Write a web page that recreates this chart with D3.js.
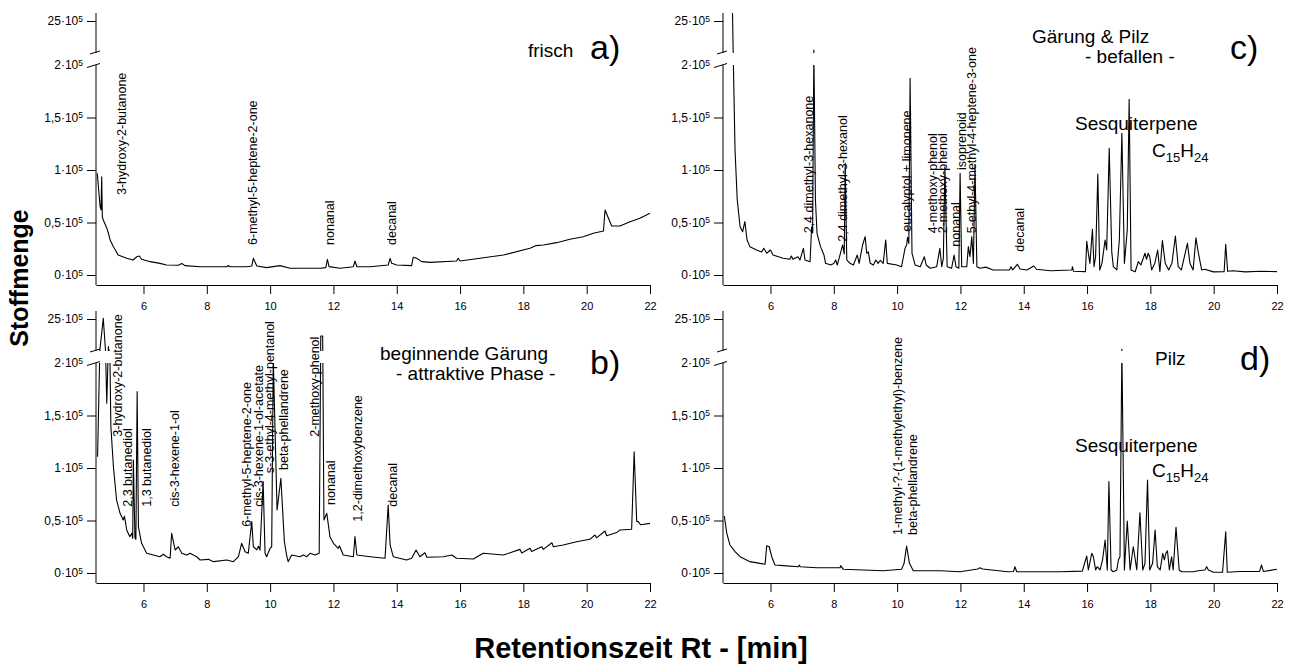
<!DOCTYPE html>
<html>
<head>
<meta charset="utf-8">
<script src="https://cdn.jsdelivr.net/npm/d3@7"></script>
<style>
  body { margin: 0; background: #fff; }
  svg { display: block; font-family: "Liberation Sans", Arial, sans-serif; }
</style>
</head>
<body>
<svg id="chart"></svg>
<script>
// axis ticks
const rtTicks = [6, 8, 10, 12, 14, 16, 18, 20, 22];
const yTickValues = [0, 50000, 100000, 150000, 200000, 2500000];
const yTickLabels = ["0·10", "0,5·10", "1·10", "1,5·10", "2·10", "25·10"];

// chromatograms: [retention time (min), amount]
const traceA = [
  [4.54, 96900], [4.63, 65000], [4.66, 62000], [4.68, 93600], [4.70, 55500], [4.73, 52400],
  [4.84, 44800], [4.89, 40000], [4.95, 33000], [5.05, 27000], [5.20, 19000], [5.47, 15900],
  [5.67, 14300], [5.79, 17400], [5.87, 18100], [5.94, 15000], [6.21, 12700], [6.52, 11100],
  [6.73, 9500], [7.10, 9300], [7.21, 11000], [7.31, 8900], [7.79, 7900], [8.63, 7900],
  [8.68, 9000], [8.73, 7900], [9.26, 7900], [9.42, 8500], [9.47, 15900], [9.58, 8500],
  [9.89, 7000], [10.31, 8900], [10.63, 6400], [11.58, 6400], [11.76, 7000], [11.81, 15000],
  [11.86, 8000], [12.21, 6400], [12.63, 7900], [12.68, 13300], [12.74, 7900], [13.16, 7900],
  [13.73, 9500], [13.79, 15900], [13.84, 11100], [14.0, 9500], [14.47, 8900], [14.52, 16900],
  [14.63, 15900], [14.79, 12700], [15.05, 12000], [15.89, 13300], [15.94, 15900], [16.0, 13300],
  [16.63, 15900], [17.37, 19000], [18.21, 25400], [18.40, 28000], [18.63, 28600], [19.05, 30800],
  [19.47, 34000], [19.89, 36500], [20.21, 39700], [20.53, 41900], [20.58, 61900], [20.79, 46700],
  [21.05, 46700], [21.37, 50800], [21.68, 54000], [22.0, 58800]
];

const traceB = [
  [4.55, 110800], [4.62, 250000], [4.73, 2550000], [4.80, 250000], [4.84, 161600], [4.89, 530000],
  [4.94, 210000], [4.97, 139300], [5.05, 101200], [5.15, 69500], [5.26, 56900], [5.36, 50500],
  [5.40, 54000], [5.47, 41000], [5.57, 34600], [5.63, 37800], [5.66, 33000], [5.68, 107600],
  [5.73, 33500], [5.76, 32000], [5.80, 172700], [5.84, 44000], [5.94, 28300], [6.10, 18800],
  [6.31, 17100], [6.52, 15500], [6.63, 17800], [6.73, 15500], [6.84, 14000], [6.89, 37800],
  [7.0, 21900], [7.10, 25000], [7.21, 18800], [7.37, 17100], [7.47, 18800], [7.68, 15500],
  [7.79, 12400], [8.05, 13000], [8.21, 10800], [8.63, 12400], [8.84, 10800], [9.0, 15500],
  [9.10, 28300], [9.21, 20300], [9.31, 18800], [9.42, 48900], [9.47, 25000], [9.58, 22000],
  [9.63, 25500], [9.68, 21900], [9.78, 87000], [9.84, 18800], [9.89, 15500], [10.0, 23500],
  [10.05, 25000], [10.10, 205000], [10.22, 60000], [10.34, 90200], [10.45, 30000], [10.52, 17100],
  [10.57, 10800], [10.68, 17100], [10.94, 15500], [11.05, 17100], [11.16, 15500], [11.26, 18800],
  [11.42, 17100], [11.55, 18800], [11.60, 1290000], [11.66, 1290000], [11.70, 50500], [11.79, 56900],
  [11.89, 34600], [12.0, 28300], [12.15, 23500], [12.19, 26000], [12.31, 17100], [12.63, 15500],
  [12.68, 34600], [12.74, 17100], [13.16, 15500], [13.63, 14000], [13.73, 64800], [13.79, 26700],
  [13.89, 15500], [14.31, 12400], [14.47, 14000], [14.61, 21900], [14.73, 15500], [14.89, 19300],
  [14.95, 15000], [15.47, 15500], [15.74, 17100], [15.89, 14000], [16.42, 13300], [16.73, 18800],
  [17.37, 17100], [17.89, 22500], [17.95, 19000], [18.21, 23500], [18.26, 20500], [18.58, 25000],
  [18.63, 22500], [18.90, 28800], [18.95, 25000], [19.26, 26700], [19.68, 29800], [20.10, 32100],
  [20.26, 36200], [20.31, 33500], [20.58, 40000], [20.63, 35500], [20.95, 38500], [21.05, 41000],
  [21.42, 41600], [21.50, 115500], [21.58, 49000], [21.63, 48900], [21.70, 46000], [22.0, 47300]
];

const traceC = [
  [4.80, 3100000], [4.83, 198000], [4.88, 119000], [4.95, 71400], [5.04, 46000], [5.12, 41200],
  [5.19, 50800], [5.26, 33300], [5.35, 27000], [5.56, 23800], [5.72, 22000], [5.79, 25400],
  [5.88, 20700], [6.00, 23800], [6.08, 19000], [6.40, 15900], [6.61, 15000], [6.66, 18100],
  [6.71, 15000], [6.87, 17400], [6.93, 14300], [7.04, 25400], [7.09, 14300], [7.25, 12700],
  [7.30, 46000], [7.33, 40000], [7.37, 430000], [7.42, 71400], [7.47, 39700], [7.58, 27000],
  [7.69, 19000], [7.74, 11100], [7.90, 9500], [8.00, 11000], [8.06, 14300], [8.11, 9500],
  [8.28, 28600], [8.33, 20000], [8.36, 106400], [8.41, 14300], [8.51, 11100], [8.62, 9500],
  [8.74, 19000], [8.80, 11100], [8.91, 28600], [8.99, 36500], [9.04, 20700], [9.09, 22000],
  [9.15, 11100], [9.25, 9500], [9.33, 14300], [9.40, 11100], [9.47, 14000], [9.56, 11100],
  [9.64, 33300], [9.69, 11100], [9.99, 9500], [10.14, 7900], [10.25, 25400], [10.30, 28600],
  [10.33, 35900], [10.37, 30000], [10.41, 187300], [10.47, 20700], [10.57, 9500], [10.73, 7900],
  [10.86, 17400], [10.92, 9500], [11.04, 6400], [11.25, 7900], [11.35, 25400], [11.41, 7900],
  [11.46, 15900], [11.51, 103000], [11.58, 7900], [11.72, 6400], [11.80, 19000], [11.86, 7900],
  [11.95, 6400], [11.99, 96900], [12.04, 7900], [12.20, 7900], [12.25, 27000], [12.30, 17400],
  [12.36, 36500], [12.41, 11100], [12.46, 104800], [12.52, 7900], [12.62, 6400], [12.80, 7500],
  [13.03, 4800], [13.55, 4800], [13.60, 7900], [13.65, 4800], [13.80, 10200], [13.88, 5700],
  [14.10, 4800], [14.32, 8600], [14.40, 5500], [14.84, 4100], [15.52, 4800], [15.54, 7900],
  [15.57, 3500], [15.95, 3200], [15.99, 32000], [16.04, 20700], [16.09, 11100], [16.17, 43500],
  [16.22, 7900], [16.27, 17400], [16.34, 96200], [16.40, 4800], [16.47, 11100], [16.57, 33300],
  [16.62, 23800], [16.70, 120600], [16.78, 22200], [16.83, 7900], [16.94, 4800], [17.02, 33300],
  [17.10, 135000], [17.18, 11100], [17.27, 42900], [17.33, 167300], [17.39, 4800], [17.52, 3100],
  [17.62, 12700], [17.70, 9500], [17.83, 20700], [17.88, 15000], [17.93, 20700], [17.98, 17400],
  [18.04, 4800], [18.14, 11100], [18.23, 23800], [18.30, 3100], [18.38, 32700], [18.47, 11100],
  [18.58, 4800], [18.68, 11100], [18.79, 37100], [18.88, 7900], [18.98, 4800], [19.17, 30200],
  [19.25, 11100], [19.35, 4800], [19.44, 35500], [19.51, 22000], [19.62, 4800], [19.72, 5500],
  [19.99, 3000], [20.33, 3100], [20.38, 29200], [20.44, 3500], [20.60, 4000], [21.0, 3000],
  [21.5, 3500], [22.0, 3200]
];

const traceD = [
  [4.54, 54300], [4.62, 37800], [4.72, 26700], [4.88, 20300], [5.04, 15500], [5.35, 10800],
  [5.67, 9200], [5.83, 8300], [5.88, 26000], [5.96, 25000], [6.04, 15500], [6.14, 7600],
  [6.40, 7000], [6.88, 6000], [6.91, 7500], [6.94, 6000], [7.46, 5000], [8.20, 5000],
  [8.22, 7000], [8.30, 3500], [9.56, 2200], [10.14, 3500], [10.22, 9200], [10.30, 25700],
  [10.39, 9200], [10.51, 2200], [11.35, 2200], [11.99, 1200], [12.55, 3800], [12.62, 5000],
  [12.70, 3800], [13.50, 1200], [13.68, 1500], [13.72, 6000], [13.78, 1200], [15.15, 1200],
  [15.85, 1800], [15.99, 16200], [16.04, 3000], [16.15, 18800], [16.20, 15500], [16.27, 2900],
  [16.32, 6000], [16.41, 2900], [16.49, 12400], [16.57, 31400], [16.64, 2900], [16.69, 87000],
  [16.76, 2900], [16.83, 1200], [16.94, 2900], [16.99, 12400], [17.04, 15500], [17.10, 350000],
  [17.18, 2900], [17.27, 49500], [17.36, 2900], [17.46, 25000], [17.51, 15500], [17.57, 2900],
  [17.67, 57400], [17.76, 2900], [17.83, 9200], [17.91, 88600], [17.98, 2900], [18.07, 9200],
  [18.15, 41000], [18.22, 6000], [18.31, 2900], [18.39, 18800], [18.44, 12400], [18.49, 18800],
  [18.54, 21200], [18.60, 2900], [18.67, 15500], [18.72, 2900], [18.81, 43500], [18.91, 2900],
  [18.99, 1200], [19.36, 1200], [19.51, 2200], [19.72, 2900], [19.78, 6000], [19.83, 2900],
  [19.99, 700], [20.28, 700], [20.38, 39300], [20.43, 700], [20.83, 1500], [21.45, 1500],
  [21.51, 7600], [21.57, 1500], [22.0, 3500]
];

// peak names: [text, retention time, amount at the foot of the text]
const labelsA = [
  ["3-hydroxy-2-butanone", 5.31, 76200],
  ["6-methyl-5-heptene-2-one", 9.47, 28600],
  ["nonanal", 11.88, 28600],
  ["decanal", 13.84, 28600]
];
const labelsB = [
  ["3-hydroxy-2-butanone", 5.20, 129800],
  ["2,3 butanediol", 5.50, 63100],
  ["1,3 butanediol", 6.10, 63100],
  ["cis-3-hexene-1-ol", 7.0, 63100],
  ["6-methyl-5-heptene-2-one", 9.26, 44100],
  ["cis-3-hexene-1-ol-acetate", 9.66, 63100],
  ["s-3-ethyl-4-methyl-pentanol", 10.0, 95000],
  ["beta-phellandrene", 10.45, 98100],
  ["2-methoxy-phenol", 11.42, 129800],
  ["nonanal", 11.92, 64800],
  ["1,2-dimethoxybenzene", 12.79, 48900],
  ["decanal", 13.89, 63100]
];
const labelsC = [
  ["2,4 dimethyl-3-hexanone", 7.23, 39700],
  ["2,4 dimethyl-3-hexanol", 8.28, 31700],
  ["eucalyptol + limonene", 10.32, 41200],
  ["4-methoxy-phenol", 11.14, 39700],
  ["2-methoxy-phenol", 11.44, 39700],
  ["nonanal", 11.86, 27000],
  ["isoprenoid", 12.04, 100000],
  ["5-ethyl-4-methyl-4-heptene-3-one", 12.35, 39700],
  ["decanal", 13.88, 22200]
];
const labelsD = [
  ["1-methyl-?-(1-methylethyl)-benzene", 10.04, 36200],
  ["beta-phellandrene", 10.51, 36200]
];

// layout
const width = 1293;
const height = 664;
const plotW = 554;

const panels = [
  { x0: 96,  top: 21,  trace: traceA, labels: labelsA, letter: "a)", letterPos: [494, 38],
    notes: [["frisch", 432, 36]] },
  { x0: 96,  top: 319, trace: traceB, labels: labelsB, letter: "b)", letterPos: [494, 55],
    notes: [["beginnende Gärung", 284, 41], ["- attraktive Phase -", 300, 61]] },
  { x0: 723, top: 21,  trace: traceC, labels: labelsC, letter: "c)", letterPos: [507, 38],
    notes: [["Gärung & Pilz", 309, 22], ["- befallen -", 362, 42], ["Sesquiterpene", 352, 109]],
    formula: [429, 136] },
  { x0: 723, top: 319, trace: traceD, labels: labelsD, letter: "d)", letterPos: [517, 51],
    notes: [["Pilz", 432, 46], ["Sesquiterpene", 352, 133]],
    formula: [429, 158] }
];

const svg = d3.select("#chart")
  .attr("width", width)
  .attr("height", height)
  .attr("viewBox", [0, 0, width, height]);

function drawPanel(p, i) {
  const x = d3.scaleLinear([4.5, 22], [p.x0, p.x0 + plotW]);
  // broken y axis: lower part 0..2e5, upper part 2.2e5..25e5
  const y = d3.scaleLinear([0, 2e5, 2.2e5, 2.5e6],
                           [p.top + 254, p.top + 44, p.top + 32, p.top]);
  const g = svg.append("g");

  // hide the trace inside the axis break
  const clipId = "clip" + i;
  const clip = svg.append("clipPath").attr("id", clipId);
  clip.append("rect").attr("x", p.x0).attr("y", p.top - 8)
    .attr("width", plotW + 2).attr("height", 40);
  clip.append("rect").attr("x", p.x0).attr("y", p.top + 44)
    .attr("width", plotW + 2).attr("height", 221);

  const line = d3.line()
    .x(d => x(d[0]))
    .y(d => y(d[1]));

  g.append("path")
    .datum(p.trace)
    .attr("clip-path", `url(#${clipId})`)
    .attr("fill", "none")
    .attr("stroke", "#000")
    .attr("stroke-width", 1.1)
    .attr("stroke-linejoin", "round")
    .attr("d", line);

  // x axis
  g.append("g")
    .attr("transform", `translate(0,${p.top + 264})`)
    .call(d3.axisBottom(x).tickValues(rtTicks).tickSize(9).tickPadding(8).tickSizeOuter(0))
    .attr("font-size", 11)
    .attr("font-family", null);

  // y axis
  const ya = g.append("g")
    .attr("transform", `translate(${p.x0},0)`)
    .call(d3.axisLeft(y).tickValues(yTickValues).tickSize(9).tickPadding(4)
      .tickFormat(d => yTickLabels[yTickValues.indexOf(d)]))
    .attr("font-size", 12)
    .attr("font-family", null);
  ya.select(".domain").remove();
  ya.selectAll(".tick text")
    .append("tspan")
    .attr("dy", "-0.45em")
    .attr("font-size", 8.5)
    .text("5");
  ya.selectAll(".tick").filter(d => d === 2e5).select("line")
    .attr("x1", -9).attr("y1", 2).attr("x2", 4).attr("y2", -2);

  ya.append("line")
    .attr("y1", p.top - 8).attr("y2", p.top + 32)
    .attr("stroke", "#000");
  ya.append("line")
    .attr("y1", p.top + 44).attr("y2", p.top + 264)
    .attr("stroke", "#000");
  ya.append("line")
    .attr("x1", -6).attr("y1", p.top + 33).attr("x2", 4).attr("y2", p.top + 30)
    .attr("stroke", "#000");

  // peak names
  g.selectAll(".peak")
    .data(p.labels)
    .join("text")
    .attr("class", "peak")
    .attr("transform", d => `translate(${x(d[1]) + 4},${y(d[2])}) rotate(-90)`)
    .attr("font-size", 12.5)
    .text(d => d[0]);

  // panel notes
  p.notes.forEach(n => {
    g.append("text")
      .attr("x", p.x0 + n[1])
      .attr("y", p.top + n[2])
      .attr("font-size", 19)
      .text(n[0]);
  });

  if (p.formula) {
    const f = g.append("text")
      .attr("x", p.x0 + p.formula[0])
      .attr("y", p.top + p.formula[1])
      .attr("font-size", 19);
    f.append("tspan").text("C");
    f.append("tspan").attr("font-size", 13).attr("dy", 5).text("15");
    f.append("tspan").attr("dy", -5).text("H");
    f.append("tspan").attr("font-size", 13).attr("dy", 5).text("24");
  }

  g.append("text")
    .attr("x", p.x0 + p.letterPos[0])
    .attr("y", p.top + p.letterPos[1])
    .attr("font-size", 34)
    .text(p.letter);
}

panels.forEach(drawPanel);

// axis titles
svg.append("text")
  .attr("transform", "translate(28,278) rotate(-90)")
  .attr("text-anchor", "middle")
  .attr("font-size", 25)
  .attr("font-weight", "bold")
  .text("Stoffmenge");

svg.append("text")
  .attr("x", 641)
  .attr("y", 658)
  .attr("text-anchor", "middle")
  .attr("font-size", 29)
  .attr("font-weight", "bold")
  .text("Retentionszeit Rt - [min]");
</script>
</body>
</html>
